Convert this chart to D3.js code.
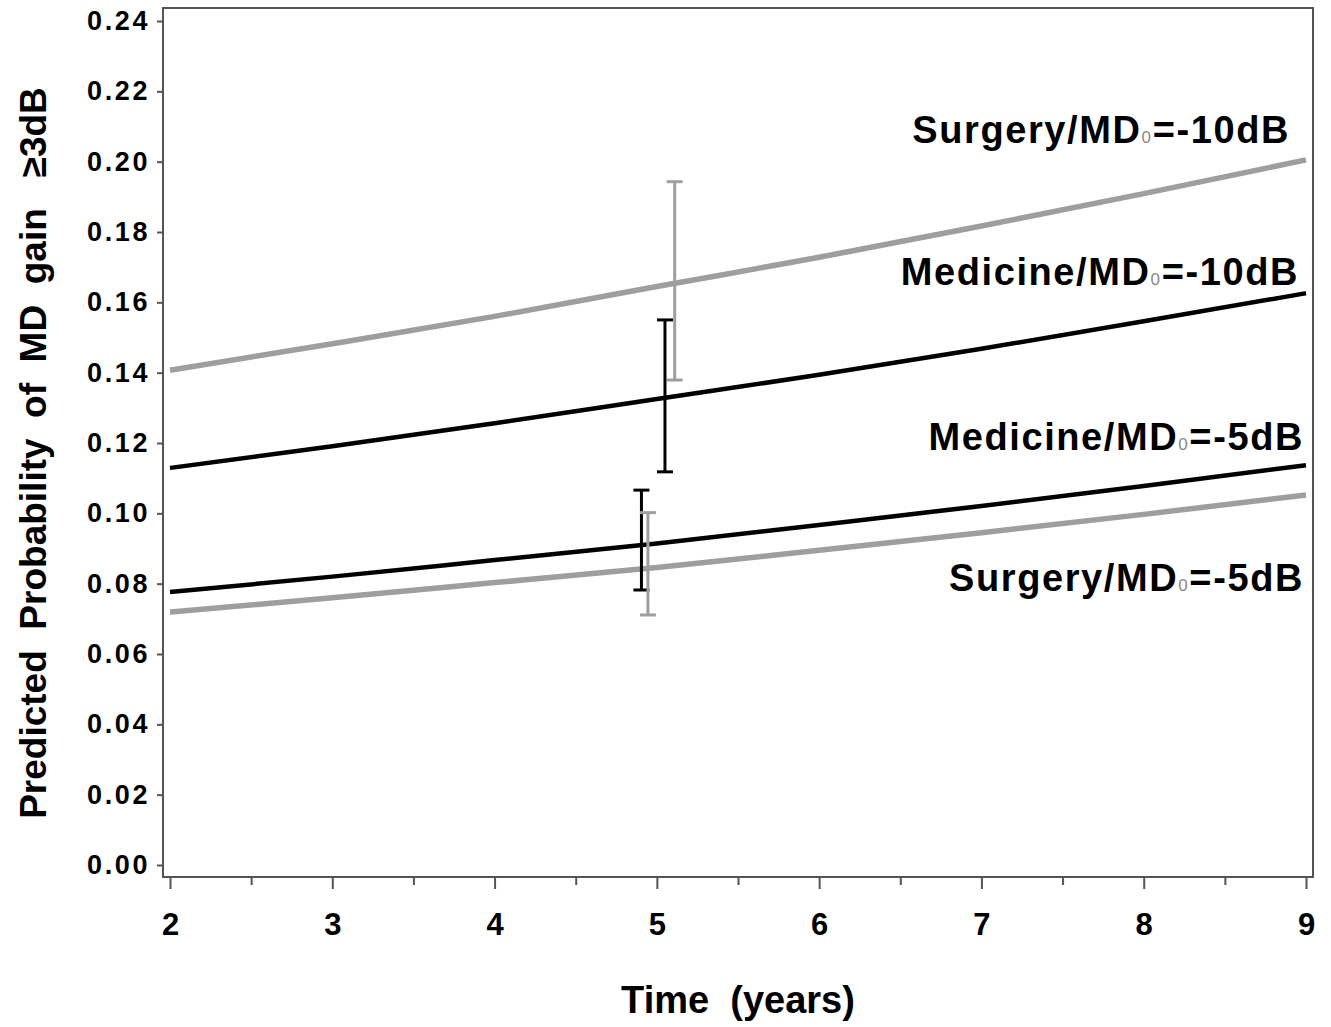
<!DOCTYPE html>
<html><head><meta charset="utf-8">
<script src="https://cdn.jsdelivr.net/npm/d3@7"></script>
<style>
html,body{margin:0;padding:0;background:#fff;}
text{font-family:"Liberation Sans",Arial,Helvetica,sans-serif;font-weight:bold;fill:#000;}
</style></head>
<body>
<svg id="chart" width="1331" height="1027"></svg>
<script>
// ---- data ----
const years = [2, 3, 4, 5, 6, 7, 8, 9];
const surgery10  = [0.1407, 0.1482, 0.1560, 0.1645, 0.1728, 0.1817, 0.1909, 0.2005];
const medicine10 = [0.1129, 0.1191, 0.1256, 0.1325, 0.1394, 0.1468, 0.1546, 0.1626];
const medicine5  = [0.0776, 0.0820, 0.0867, 0.0914, 0.0967, 0.1021, 0.1078, 0.1137];
const surgery5   = [0.0719, 0.0760, 0.0803, 0.0846, 0.0895, 0.0945, 0.0997, 0.1052];
// error bars: [year, low, high]
const errSurgery10  = [5.11, 0.1379, 0.1943];
const errMedicine10 = [5.05, 0.1118, 0.1550];
const errMedicine5  = [4.905, 0.0782, 0.1066];
const errSurgery5   = [4.945, 0.0711, 0.1002];
const yTicks = [0, 0.02, 0.04, 0.06, 0.08, 0.10, 0.12, 0.14, 0.16, 0.18, 0.20, 0.22, 0.24];
const xTicks = [2, 3, 4, 5, 6, 7, 8, 9];
const xMinor = [2.5, 3.5, 4.5, 5.5, 6.5, 7.5, 8.5];
const labels = [
  {name: "Surgery/MD", sub: "0", rest: "=-10dB"},
  {name: "Medicine/MD", sub: "0", rest: "=-10dB"},
  {name: "Medicine/MD", sub: "0", rest: "=-5dB"},
  {name: "Surgery/MD", sub: "0", rest: "=-5dB"}
];

const GRAY = "#9e9e9e", BLACK = "#000";
const svg = d3.select("#chart");
const frame = {left: 163, right: 1313, top: 8, bottom: 877};
const x = d3.scaleLinear().domain([2, 9]).range([170, 1306]);
const y = d3.scaleLinear().domain([0, 0.24]).range([865, 21]);

// frame
svg.append("rect").attr("x", frame.left).attr("y", frame.top)
  .attr("width", frame.right - frame.left).attr("height", frame.bottom - frame.top)
  .attr("fill", "none").attr("stroke", "#555").attr("stroke-width", 2);

// y axis
const yAxis = d3.axisLeft(y).tickValues(yTicks).tickFormat(d3.format(".2f")).tickSize(6).tickPadding(7);
const gy = svg.append("g").attr("transform", `translate(${frame.left},0)`).call(yAxis);
gy.select(".domain").remove();
gy.selectAll("line").attr("stroke", "#555").attr("stroke-width", 2);
gy.selectAll("text").style("font-size", "27px").style("letter-spacing", "2.6px")
  .attr("font-family", null).attr("fill", "#000");

// x axis
const xAxis = d3.axisBottom(x).tickValues(xTicks).tickFormat(d3.format("d")).tickSize(12).tickPadding(24);
const gx = svg.append("g").attr("transform", `translate(0,${frame.bottom})`).call(xAxis);
gx.select(".domain").remove();
gx.selectAll("line").attr("stroke", "#555").attr("stroke-width", 2);
gx.selectAll("text").style("font-size", "31px").attr("font-family", null).attr("fill", "#000");
const gxm = svg.append("g").attr("transform", `translate(0,${frame.bottom})`)
  .call(d3.axisBottom(x).tickValues(xMinor).tickFormat("").tickSize(8));
gxm.select(".domain").remove();
gxm.selectAll("line").attr("stroke", "#555").attr("stroke-width", 2);

// axis titles
svg.append("text").attr("x", 738).attr("y", 1013).attr("text-anchor", "middle")
  .style("font-size", "38px").style("white-space", "pre").text("Time  (years)");
svg.append("text").attr("transform", "translate(46,453) rotate(-90)").attr("text-anchor", "middle")
  .style("font-size", "37px").style("white-space", "pre").text("Predicted  Probability  of  MD  gain   \u22653dB");

// lines
const line = d3.line().x((d, i) => x(years[i])).y(d => y(d)).curve(d3.curveMonotoneX);
const series = [
  {vals: surgery10, color: GRAY, w: 5.5},
  {vals: medicine10, color: BLACK, w: 4.5},
  {vals: medicine5, color: BLACK, w: 4.5},
  {vals: surgery5, color: GRAY, w: 5.5}
];
svg.append("g").selectAll("path").data(series).join("path")
  .attr("d", d => line(d.vals)).attr("fill", "none")
  .attr("stroke", d => d.color).attr("stroke-width", d => d.w);

// error bars
const errs = [
  {e: errSurgery10, color: GRAY},
  {e: errMedicine10, color: BLACK},
  {e: errMedicine5, color: BLACK},
  {e: errSurgery5, color: GRAY}
];
const ge = svg.append("g");
errs.forEach(o => {
  const [t, lo, hi] = o.e;
  const g = ge.append("g").attr("stroke", o.color).attr("stroke-width", 3);
  g.append("line").attr("x1", x(t)).attr("x2", x(t)).attr("y1", y(lo)).attr("y2", y(hi));
  g.append("line").attr("x1", x(t) - 8).attr("x2", x(t) + 8).attr("y1", y(lo)).attr("y2", y(lo));
  g.append("line").attr("x1", x(t) - 8).attr("x2", x(t) + 8).attr("y1", y(hi)).attr("y2", y(hi));
});

// labels
const labelPos = [
  {x: 1290, y: 143},
  {x: 1299, y: 285},
  {x: 1304, y: 450},
  {x: 1304, y: 591}
];
labels.forEach((l, i) => {
  const t = svg.append("text").attr("x", labelPos[i].x).attr("y", labelPos[i].y)
    .attr("text-anchor", "end").style("font-size", "38px").style("letter-spacing", "1.6px");
  t.append("tspan").text(l.name);
  t.append("tspan").text(l.sub).style("font-size", "17px").style("font-weight", "normal").style("fill", "#888");
  t.append("tspan").text(l.rest);
});
</script>
</body></html>
